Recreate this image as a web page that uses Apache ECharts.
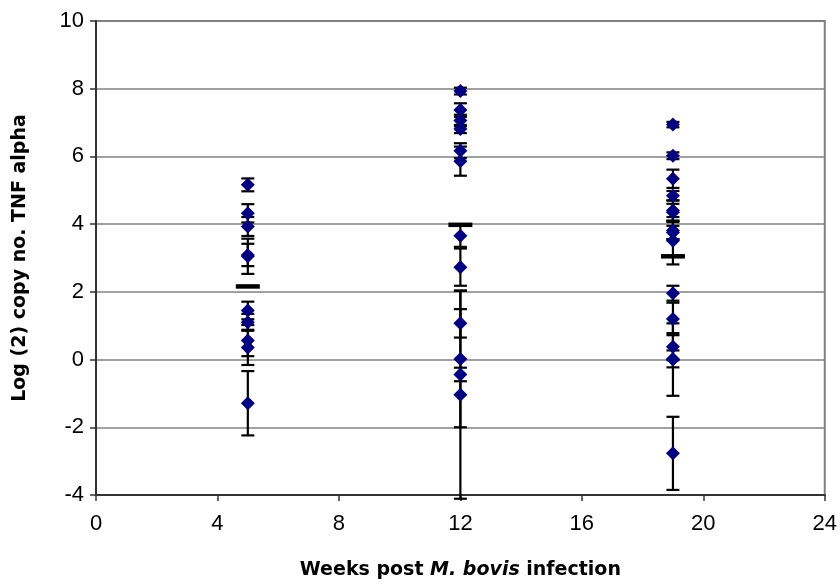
<!DOCTYPE html>
<html>
<head>
<meta charset="utf-8">
<script src="https://cdn.jsdelivr.net/npm/echarts@6/dist/echarts.min.js"></script>
<style>
html,body{margin:0;padding:0;background:#fff;}
#chart{width:840px;height:585px;}
</style>
</head>
<body>
<div id="chart"></div>
<script>
// ---- data ----
var weeks = [5, 12, 19];
var wk5Values  = [5.16, 4.32, 3.93, 3.09, 3.05, 1.45, 1.10, 0.56, 0.36, -1.29];
var wk5Errors  = [0.19, 0.27, 0.28, 0.33, 0.52, 0.26, 0.25, 0.46, 0.52, 0.95];
var wk12Values = [7.93, 7.37, 7.06, 6.81, 6.17, 5.86, 3.66, 2.73, 1.07, 0.02, -0.44, -1.04];
var wk12Errors = [0.10, 0.20, 0.17, 0.12, 0.22, 0.43, 0.33, 0.55, 0.42, 2.02, 0.20, 3.07];
var wk19Values = [6.94, 6.02, 5.34, 4.84, 4.40, 4.35, 3.81, 3.75, 3.51, 1.96, 1.20, 0.38, 0.02, 0.00, -2.77];
var wk19Errors = [0.08, 0.10, 0.27, 0.14, 0.30, 0.25, 0.25, 0.20, 0.70, 0.22, 0.48, 0.40, 0.25, 1.07, 1.08];
var groupMeans = [2.16, 3.98, 3.05];
var xTicks = [0, 4, 8, 12, 16, 20, 24];
var yTicks = [-4, -2, 0, 2, 4, 6, 8, 10];

// ---- build series data ----
var groups = [[wk5Values, wk5Errors], [wk12Values, wk12Errors], [wk19Values, wk19Errors]];
var pointData = [], errData = [], meanData = [];
groups.forEach(function (g, gi) {
  g[0].forEach(function (v, i) {
    pointData.push([weeks[gi], v]);
    errData.push([weeks[gi], v - g[1][i], v + g[1][i]]);
  });
  meanData.push([weeks[gi], groupMeans[gi]]);
});

var chart = echarts.init(document.getElementById('chart'), null, {renderer: 'canvas'});
var FONT = '"Liberation Sans", Arial, sans-serif';
var TFONT = '"DejaVu Sans", "Liberation Sans", sans-serif';
chart.setOption({
  animation: false,
  backgroundColor: '#fff',
  grid: {left: 96, right: 15, top: 21, bottom: 90, show: true, borderColor: '#808080', borderWidth: 2},
  xAxis: {
    type: 'value', min: 0, max: 24, interval: 4,
    axisLine: {show: true, onZero: false, lineStyle: {color: '#333', width: 2}},
    axisTick: {show: true, inside: false, length: 6, lineStyle: {color: '#333', width: 1.5}},
    axisLabel: {fontFamily: FONT, fontSize: 22, color: '#000', margin: 18,
      formatter: function (v) { return xTicks.indexOf(v) >= 0 ? String(v) : ''; }},
    splitLine: {show: false},
    name: '{b|Weeks post }{bi|M. bovis}{b| infection}',
    nameLocation: 'middle', nameGap: 66,
    nameTextStyle: {rich: {
      b: {fontFamily: TFONT, fontSize: 19, fontWeight: 'bold', color: '#000'},
      bi: {fontFamily: TFONT, fontSize: 19, fontWeight: 'bold', fontStyle: 'italic', color: '#000'}
    }}
  },
  yAxis: {
    type: 'value', min: -4, max: 10, interval: 2,
    axisLine: {show: true, onZero: false, lineStyle: {color: '#333', width: 2}},
    axisTick: {show: true, inside: false, length: 6, lineStyle: {color: '#333', width: 1.5}},
    axisLabel: {fontFamily: FONT, fontSize: 22, color: '#000', margin: 12,
      formatter: function (v) { return yTicks.indexOf(v) >= 0 ? String(v) : ''; }},
    splitLine: {show: true, lineStyle: {color: '#808080', width: 1.5}},
    name: 'Log (2) copy no. TNF alpha',
    nameLocation: 'middle', nameGap: 66,
    nameTextStyle: {fontFamily: TFONT, fontSize: 19, fontWeight: 'bold', color: '#000'}
  },
  series: [
    {
      type: 'custom', z: 2, data: errData,
      renderItem: function (params, api) {
        var x = api.value(0);
        var lo = api.coord([x, api.value(1)]);
        var hi = api.coord([x, api.value(2)]);
        var hw = 6.5;
        var st = {stroke: '#000', lineWidth: 2.2};
        return {type: 'group', children: [
          {type: 'line', shape: {x1: lo[0], y1: lo[1], x2: hi[0], y2: hi[1]}, style: st},
          {type: 'line', shape: {x1: lo[0] - hw, y1: lo[1], x2: lo[0] + hw, y2: lo[1]}, style: st},
          {type: 'line', shape: {x1: hi[0] - hw, y1: hi[1], x2: hi[0] + hw, y2: hi[1]}, style: st}
        ]};
      },
      clip: false
    },
    {
      type: 'scatter', z: 3, data: pointData,
      symbol: 'diamond', symbolSize: [14, 14],
      itemStyle: {color: '#000080', opacity: 1}
    },
    {
      type: 'scatter', z: 4, data: meanData,
      symbol: 'rect', symbolSize: [24, 4.5],
      itemStyle: {color: '#000', opacity: 1}
    }
  ]
});
</script>
</body>
</html>
